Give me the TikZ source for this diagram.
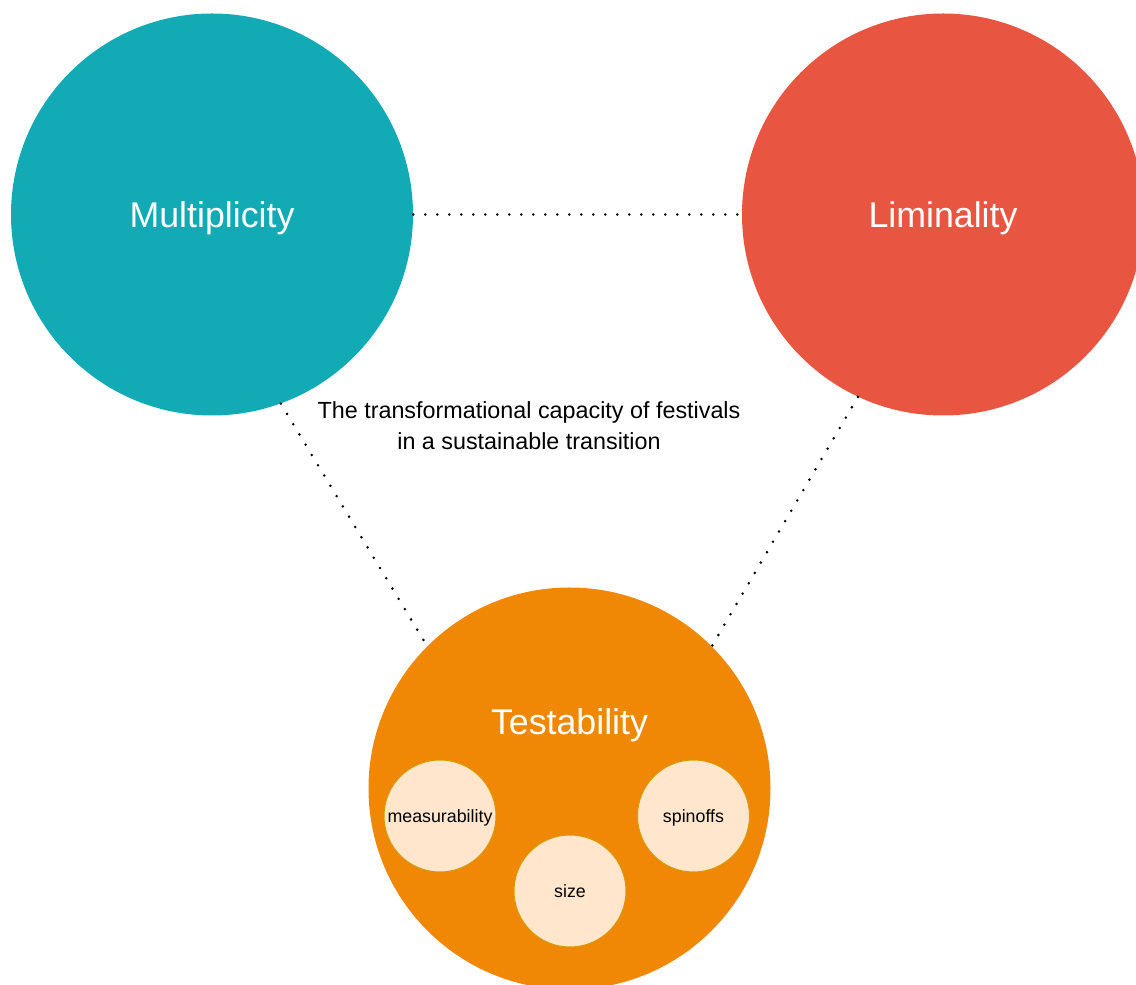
\documentclass[tikz,border=0pt]{standalone}
\usepackage{fontspec}
\setmainfont{Liberation Sans}
\usepackage{xcolor}
\definecolor{mulcol}{HTML}{12AAB5}
\definecolor{limcol}{HTML}{E85642}
\definecolor{tstcol}{HTML}{F08705}
\definecolor{subfill}{HTML}{FFE6CC}
\definecolor{subline}{HTML}{D79B00}
\tikzset{
  pillar/.style  = {circle, inner sep=0pt, minimum size=301.5pt, text=white,
                    font=\fontsize{26.8}{32}\selectfont,
                    text height=19.2pt, text depth=0pt},
  facet/.style   = {circle, draw=subline, line width=0.75pt, fill=subfill,
                    inner sep=0pt, minimum size=84pt,
                    font=\fontsize{13.35}{16}\selectfont,
                    text height=9.6pt, text depth=0pt},
  tie/.style     = {line width=2.1pt, line cap=round, dash pattern=on 0pt off 9pt},
}

\begin{document}
\begin{tikzpicture}[x=0.75pt,y=0.75pt]
\useasboundingbox (0,0) rectangle (1136,985);
% the three pillars
\node[pillar,fill=mulcol] (mul) at (212,770.5) {Multiplicity};
\node[pillar,fill=limcol] (lim) at (943,770.5) {Liminality};
\node[pillar,fill=tstcol] (tst) at (569.5,196.5) {};
\node[text=white,font=\fontsize{26.8}{32}\selectfont,text height=19.2pt,text depth=0pt,inner sep=0pt]
  (tstname) at (569.5,263) {Testability};
% sub-aspects of testability
\node[facet] (meas) at (440,169) {measurability};
\node[facet] (spin) at (693.5,169) {spinoffs};
\node[facet] (size) at (570,94) {size};
% central statement
\node[align=center,inner sep=0pt,font=\fontsize{17.5}{23.25}\selectfont]
  (aim) at (529,559.5) {The transformational capacity of festivals\\in a sustainable transition};
% dotted ties
\draw[tie] (mul.east) -- (lim.west);
\draw[tie] (mul.-70) -- (tst.135);
\draw[tie] (lim.-115) -- (tst.45);
\end{tikzpicture}
\end{document}
